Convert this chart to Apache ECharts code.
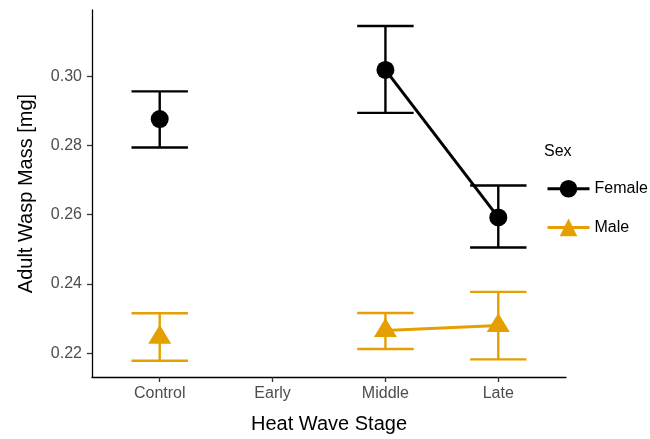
<!DOCTYPE html>
<html>
<head>
<meta charset="utf-8">
<script src="https://cdn.jsdelivr.net/npm/echarts@6/dist/echarts.min.js"></script>
<style>
html,body{margin:0;padding:0;background:#fff;}
#chart{width:650px;height:439px;}
</style>
</head>
<body>
<div id="chart"></div>
<script>
const categories = ['Control', 'Early', 'Middle', 'Late'];
const yTicks = [0.22, 0.24, 0.26, 0.28, 0.30];
const femaleMean = [0.2876, null, 0.3018, 0.2592];
const femaleLow  = [0.2794, null, 0.2894, 0.2505];
const femaleHigh = [0.2956, null, 0.3145, 0.2684];
const maleMean = [0.2246, null, 0.2265, 0.2280];
const maleLow  = [0.2178, null, 0.2212, 0.2182];
const maleHigh = [0.2315, null, 0.2316, 0.2377];

const FEMALE_COLOR = '#000000';
const MALE_COLOR = '#E69F00';
const FONT = 'Liberation Sans, Arial, sans-serif';

function lineData(means) {
  return means.map((v, i) => [i + 1, v == null ? '-' : v]);
}
function errData(lo, hi) {
  const out = [];
  lo.forEach((v, i) => { if (v != null) out.push([i + 1, v, hi[i]]); });
  return out;
}
function errSeries(lo, hi, color) {
  return {
    type: 'custom',
    silent: true,
    z: 2,
    data: errData(lo, hi),
    encode: { x: 0, y: [1, 2] },
    renderItem: function (params, api) {
      const x = api.value(0);
      const pLo = api.coord([x, api.value(1)]);
      const pHi = api.coord([x, api.value(2)]);
      const half = api.size([0.25, 0])[0];
      const style = { stroke: color, lineWidth: 2.4, fill: null };
      return {
        type: 'group',
        children: [
          { type: 'line', shape: { x1: pLo[0], y1: pLo[1], x2: pHi[0], y2: pHi[1] }, style: style },
          { type: 'line', shape: { x1: pHi[0] - half, y1: pHi[1], x2: pHi[0] + half, y2: pHi[1] }, style: style },
          { type: 'line', shape: { x1: pLo[0] - half, y1: pLo[1], x2: pLo[0] + half, y2: pLo[1] }, style: style }
        ]
      };
    }
  };
}

const chart = echarts.init(document.getElementById('chart'), null, { renderer: 'canvas' });
chart.setOption({
  animation: false,
  backgroundColor: '#ffffff',
  textStyle: { fontFamily: FONT },
  grid: { left: 92, right: 84, top: 10, bottom: 61, containLabel: false },
  xAxis: {
    type: 'value',
    min: 0.4,
    max: 4.6,
    name: 'Heat Wave Stage',
    nameLocation: 'middle',
    nameGap: 37,
    nameTextStyle: { fontSize: 20, color: '#000', fontFamily: FONT },
    axisLine: { show: true, lineStyle: { color: '#000', width: 1.3 } },
    axisTick: { show: true, customValues: [1, 2, 3, 4], length: 5, lineStyle: { color: '#333', width: 1.3 } },
    axisLabel: {
      customValues: [1, 2, 3, 4],
      formatter: v => categories[Math.round(v) - 1],
      fontSize: 16, color: '#4D4D4D', margin: 9, fontFamily: FONT
    },
    splitLine: { show: false }
  },
  yAxis: {
    type: 'value',
    min: 0.2131,
    max: 0.3191,
    name: 'Adult Wasp Mass [mg]',
    nameLocation: 'middle',
    nameGap: 56,
    nameTextStyle: { fontSize: 20, color: '#000', fontFamily: FONT },
    axisLine: { show: true, lineStyle: { color: '#000', width: 1.3 } },
    axisTick: { show: true, customValues: yTicks, length: 5, lineStyle: { color: '#333', width: 1.3 } },
    axisLabel: {
      customValues: yTicks,
      formatter: v => v.toFixed(2),
      fontSize: 16, color: '#4D4D4D', margin: 10, fontFamily: FONT
    },
    splitLine: { show: false }
  },
  legend: {
    orient: 'vertical',
    left: 546,
    top: 180,
    padding: 0,
    itemWidth: 42,
    itemHeight: 22,
    itemGap: 21,
    selectedMode: false,
    data: ['Female', 'Male'],
    lineStyle: { width: 3 },
    textStyle: { fontSize: 16, color: '#000', fontFamily: FONT, padding: [0, 0, 0, 0] }
  },
  graphic: [{
    type: 'text',
    left: 544,
    top: 144,
    style: { text: 'Sex', fontSize: 16, fill: '#000', fontFamily: FONT }
  }],
  series: [
    errSeries(femaleLow, femaleHigh, FEMALE_COLOR),
    errSeries(maleLow, maleHigh, MALE_COLOR),
    {
      name: 'Female',
      type: 'line',
      z: 3,
      data: lineData(femaleMean),
      connectNulls: false,
      symbol: 'circle',
      symbolSize: 18,
      showAllSymbol: true,
      color: FEMALE_COLOR,
      itemStyle: { color: FEMALE_COLOR },
      lineStyle: { color: FEMALE_COLOR, width: 3 }
    },
    {
      name: 'Male',
      type: 'line',
      z: 3,
      data: lineData(maleMean),
      connectNulls: false,
      symbol: 'triangle',
      symbolSize: [23, 19],
      symbolOffset: [0, -3],
      showAllSymbol: true,
      color: MALE_COLOR,
      itemStyle: { color: MALE_COLOR },
      lineStyle: { color: MALE_COLOR, width: 3 }
    }
  ]
});
</script>
</body>
</html>
